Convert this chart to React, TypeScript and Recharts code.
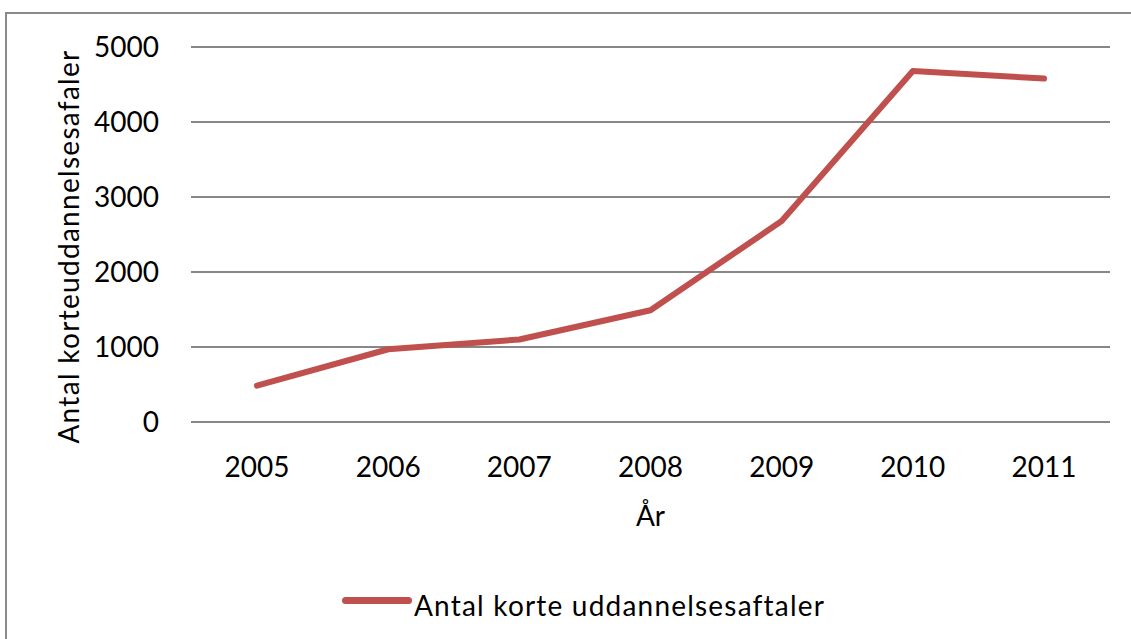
import React from 'react';
import { LineChart, Line, XAxis, YAxis, CartesianGrid, Legend } from 'recharts';

const years = ['2005', '2006', '2007', '2008', '2009', '2010', '2011'];
const aftaler = [485, 970, 1100, 1490, 2680, 4680, 4580];
const yTicks = [0, 1000, 2000, 3000, 4000, 5000];
const seriesName = 'Antal korte uddannelsesaftaler';
const yLabel = 'Antal korteuddannelsesafaler';
const xLabel = 'År';

const data = years.map((year, i) => ({ year, value: aftaler[i] }));

const RED = '#C0504D';
const GRID = '#878787';
const FONT = 'Lato, "Open Sans", sans-serif';

const renderLegend = () => (
  <div style={{ display: 'flex', alignItems: 'center', height: 40, paddingLeft: 342, fontFamily: FONT }}>
    <span style={{ display: 'inline-block', width: 70, height: 7, background: RED, borderRadius: 4, marginTop: -10 }} />
    <span style={{ fontSize: 28, color: '#000', marginLeft: 2, letterSpacing: 1.2 }}>{seriesName}</span>
  </div>
);

const renderYLabel = (props: any) => {
  const { viewBox } = props;
  const x = viewBox.x + 68;
  const y = viewBox.y + viewBox.height / 2 + 12;
  return (
    <text x={x} y={y} transform={`rotate(-90, ${x}, ${y})`} textAnchor="middle" dominantBaseline="central"
      fontSize={28} fontFamily={FONT} fill="#000" letterSpacing={1.3}>
      {yLabel}
    </text>
  );
};

const renderXLabel = (props: any) => {
  const { viewBox } = props;
  return (
    <text x={viewBox.x + viewBox.width / 2} y={viewBox.y + 104} textAnchor="middle"
      fontSize={28} fontFamily={FONT} fill="#000">
      {xLabel}
    </text>
  );
};

export default function App() {
  return (
    <div style={{ position: 'fixed', left: 0, top: 0, width: 1131, height: 639, overflow: 'hidden', background: '#fff' }}>
      <div style={{ position: 'absolute', left: 5, top: 12, width: 1200, height: 700, borderTop: '2px solid #8a8a8a', borderLeft: '2px solid #8a8a8a' }} />
      <div style={{ position: 'absolute', left: 0, top: 0 }}>
        <LineChart width={1131} height={639} data={data} margin={{ top: 47, right: 21, left: 0, bottom: 67 }}>
          <CartesianGrid vertical={false} stroke={GRID} strokeWidth={2} />
          <XAxis
            dataKey="year"
            height={110}
            padding={{ left: 66, right: 66 }}
            axisLine={false}
            tickLine={false}
            tickSize={0}
            tickMargin={35}
            tick={{ fontSize: 28, fontFamily: FONT, fill: '#000' }}
            label={{ content: renderXLabel }}
          />
          <YAxis
            width={191}
            domain={[0, 5000]}
            ticks={yTicks}
            axisLine={false}
            tickLine={false}
            tickSize={0}
            tickMargin={32}
            tick={{ fontSize: 28, fontFamily: FONT, fill: '#000' }}
            label={{ content: renderYLabel }}
          />
          <Legend
            verticalAlign="bottom"
            content={renderLegend}
            wrapperStyle={{ left: 0, bottom: 14, width: 1131 }}
          />
          <Line
            type="linear"
            dataKey="value"
            name={seriesName}
            stroke={RED}
            strokeWidth={6}
            strokeLinecap="round"
            strokeLinejoin="round"
            dot={false}
            activeDot={false}
            isAnimationActive={false}
          />
        </LineChart>
      </div>
    </div>
  );
}
